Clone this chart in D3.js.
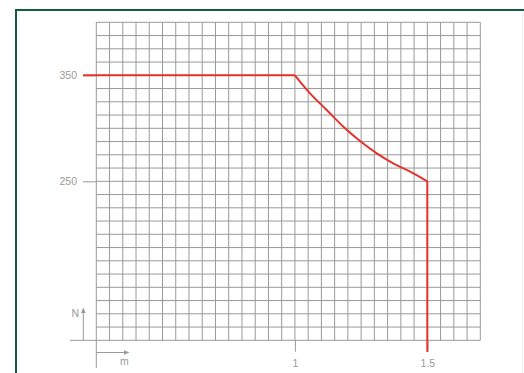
<!DOCTYPE html>
<html>
<head>
<meta charset="utf-8">
<script src="https://cdn.jsdelivr.net/npm/d3@7"></script>
<style>
  html, body { margin: 0; padding: 0; background: #fff; }
  svg { display: block; }
  text { font-family: "Liberation Sans", Arial, sans-serif; font-size: 10.5px; fill: #9a9a9a; }
</style>
</head>
<body>
<svg id="chart" width="524" height="373"></svg>
<script>
// Load curve: permissible force N against distance m
const curveM = [0.2, 1.0, 1.019, 1.057, 1.12, 1.183, 1.246, 1.309, 1.371, 1.435, 1.5];
const curveN = [350, 350, 344, 333, 317.3, 301.5, 288, 276.4, 267, 259.1, 250];
// Vertical drop at the limit distance
const dropM = [1.5, 1.5];
const dropN = [250, 89];

const yTickValues = [250, 350];
const yTickLabels = ["250", "350"];
const xTickValues = [1, 1.5];
const xTickLabels = ["1", "1.5"];

const svg = d3.select("#chart");

const x = d3.scaleLinear().domain([0.25, 1.7]).range([96.3, 480.3]);
const y = d3.scaleLinear().domain([100, 400]).range([340.3, 22.3]);

// Frame
svg.append("rect").attr("x", 16).attr("y", 10).attr("width", 620).attr("height", 420)
  .attr("fill", "none").attr("stroke", "#145c3e").attr("stroke-width", 2);
svg.append("line").attr("x1", 522.5).attr("x2", 522.5).attr("y1", 13).attr("y2", 373)
  .attr("stroke", "#ececec").attr("stroke-width", 1);

// Grid: 0.05 m columns, 12.5 N rows
const gridCols = d3.range(0, 30).map(i => 0.25 + i * 0.05);
const gridRows = d3.range(0, 25).map(i => 100 + i * 12.5);
const grid = svg.append("g").attr("stroke", "#999").attr("stroke-width", 1);
grid.selectAll("line.v").data(gridCols).join("line").attr("class", "v")
  .attr("x1", d => x(d)).attr("x2", d => x(d))
  .attr("y1", y(400)).attr("y2", y(100));
grid.selectAll("line.h").data(gridRows).join("line").attr("class", "h")
  .attr("x1", x(0.25)).attr("x2", x(1.7))
  .attr("y1", d => y(d)).attr("y2", d => y(d));

// Y axis ticks
const yAxis = d3.axisLeft(y).tickValues(yTickValues)
  .tickFormat((d, i) => yTickLabels[i]).tickSize(13.3).tickPadding(6);
const gy = svg.append("g").attr("transform", `translate(${x(0.25)},0)`).call(yAxis);
gy.select(".domain").remove();
gy.selectAll(".tick line").attr("stroke", "#999");
gy.selectAll(".tick text").attr("font-size", null).attr("font-family", null).attr("fill", null);

// X axis ticks
const xAxis = d3.axisBottom(x).tickValues(xTickValues)
  .tickFormat((d, i) => xTickLabels[i]).tickSize(11.5).tickPadding(7.5);
const gx = svg.append("g").attr("transform", `translate(0,${y(100)})`).call(xAxis);
gx.select(".domain").remove();
gx.selectAll(".tick line").attr("stroke", "#999");
gx.selectAll(".tick text").attr("font-size", null).attr("font-family", null).attr("fill", null);

// Baseline extension and origin tick
svg.append("line").attr("x1", 70).attr("x2", x(0.25)).attr("y1", y(100)).attr("y2", y(100))
  .attr("stroke", "#999");
svg.append("line").attr("x1", x(0.25)).attr("x2", x(0.25)).attr("y1", y(100)).attr("y2", 368)
  .attr("stroke", "#999");

// Axis direction arrows
const ax = 83.3;
svg.append("line").attr("x1", ax).attr("x2", ax).attr("y1", y(100)).attr("y2", 312)
  .attr("stroke", "#999");
svg.append("path").attr("d", `M${ax},307.5 L${ax - 2.3},313 L${ax + 2.3},313 Z`).attr("fill", "#999");
svg.append("text").attr("x", 71.5).attr("y", 316.5).text("N");

const ay = 352.5;
svg.append("line").attr("x1", x(0.25)).attr("x2", 125).attr("y1", ay).attr("y2", ay)
  .attr("stroke", "#999");
svg.append("path").attr("d", `M129.5,${ay} L124,${ay - 2.3} L124,${ay + 2.3} Z`).attr("fill", "#999");
svg.append("text").attr("x", 120).attr("y", 364.5).text("m");

// Red load curve
const pts = curveM.map((m, i) => [m, curveN[i]]);
const flat = pts.slice(0, 2);
const bend = pts.slice(1);
const drop = dropM.map((m, i) => [m, dropN[i]]);

const lin = d3.line().x(d => x(d[0])).y(d => y(d[1]));
const smooth = d3.line().x(d => x(d[0])).y(d => y(d[1])).curve(d3.curveMonotoneX);

const red = svg.append("g").attr("fill", "none").attr("stroke", "#e5332b")
  .attr("stroke-width", 2).attr("stroke-linejoin", "round");
red.append("path").attr("d", lin(flat));
red.append("path").attr("d", smooth(bend));
red.append("path").attr("d", lin(drop));
</script>
</body>
</html>
